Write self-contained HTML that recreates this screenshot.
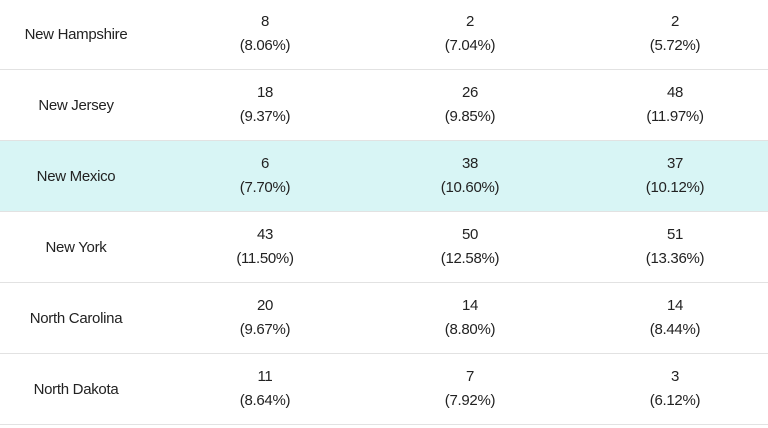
<!DOCTYPE html>
<html><head><style>
body{margin:0;width:768px;height:428px;overflow:hidden;background:#fff;font-family:"Liberation Sans",sans-serif;color:#222;}
.row{position:absolute;left:0;width:768px;height:70px;border-bottom:1.5px solid #e2e2e2;}
.hl{background:#d8f5f5;}
.c{position:absolute;text-align:center;font-size:15px;line-height:24px;letter-spacing:-0.3px;}
.s{left:0;width:152px;top:24px;}
.a{left:165px;width:200px;top:11px;}
.b{left:370px;width:200px;top:11px;}
.d{left:575px;width:200px;top:11px;}
</style></head><body>
<div class="row" style="top:-1px"><div class="c s">New Hampshire</div><div class="c a">8<br>(8.06%)</div><div class="c b">2<br>(7.04%)</div><div class="c d">2<br>(5.72%)</div></div>
<div class="row" style="top:70px"><div class="c s">New Jersey</div><div class="c a">18<br>(9.37%)</div><div class="c b">26<br>(9.85%)</div><div class="c d">48<br>(11.97%)</div></div>
<div class="row hl" style="top:141px"><div class="c s">New Mexico</div><div class="c a">6<br>(7.70%)</div><div class="c b">38<br>(10.60%)</div><div class="c d">37<br>(10.12%)</div></div>
<div class="row" style="top:212px"><div class="c s">New York</div><div class="c a">43<br>(11.50%)</div><div class="c b">50<br>(12.58%)</div><div class="c d">51<br>(13.36%)</div></div>
<div class="row" style="top:283px"><div class="c s">North Carolina</div><div class="c a">20<br>(9.67%)</div><div class="c b">14<br>(8.80%)</div><div class="c d">14<br>(8.44%)</div></div>
<div class="row" style="top:354px"><div class="c s">North Dakota</div><div class="c a">11<br>(8.64%)</div><div class="c b">7<br>(7.92%)</div><div class="c d">3<br>(6.12%)</div></div>
</body></html>
